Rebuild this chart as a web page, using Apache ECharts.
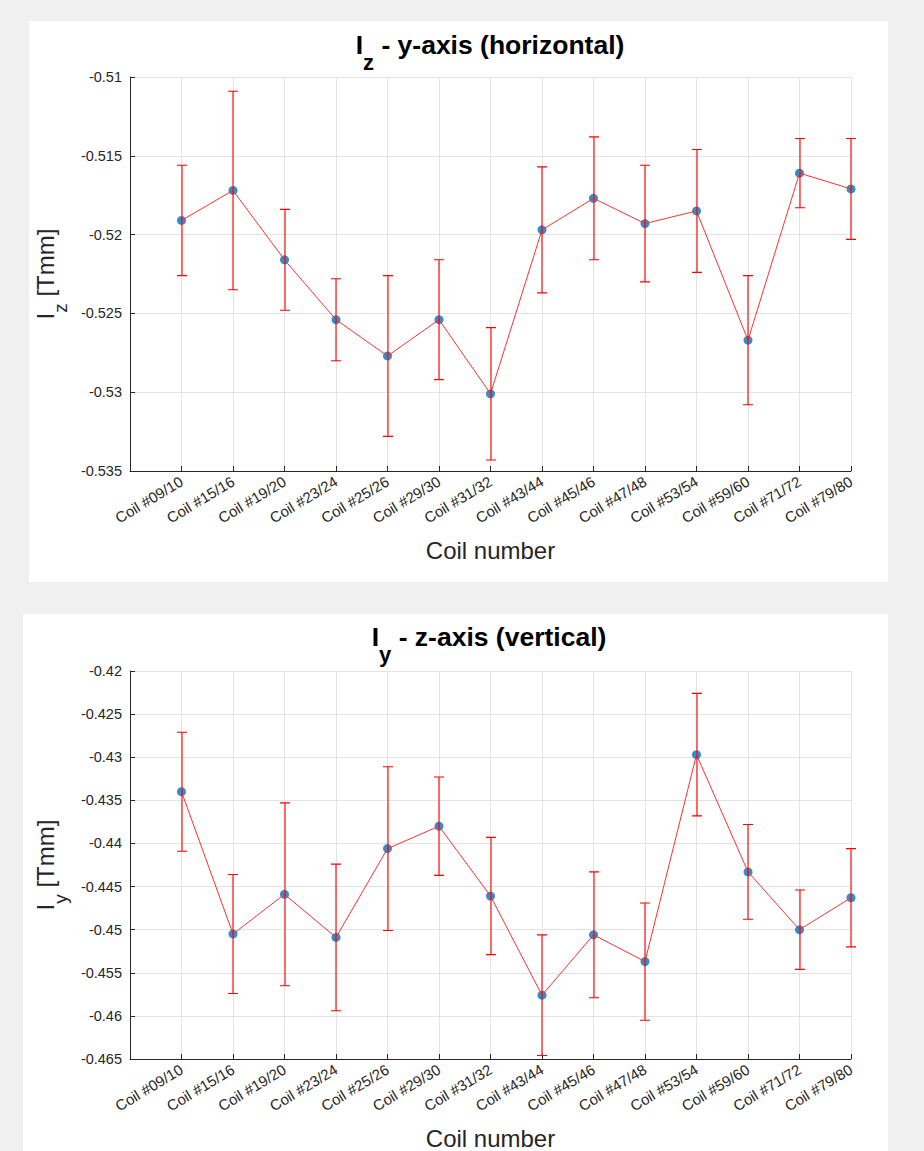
<!DOCTYPE html>
<html>
<head>
<meta charset="utf-8">
<script src="https://cdn.jsdelivr.net/npm/echarts@6/dist/echarts.min.js"></script>
<style>
  html, body { margin: 0; padding: 0; background: #f0f0f0; }
  #chart { width: 924px; height: 1151px; }
</style>
</head>
<body>
<div id="chart"></div>
<script>
// Coil pairs measured
const coils = ['Coil #09/10', 'Coil #15/16', 'Coil #19/20', 'Coil #23/24', 'Coil #25/26',
  'Coil #29/30', 'Coil #31/32', 'Coil #43/44', 'Coil #45/46', 'Coil #47/48',
  'Coil #53/54', 'Coil #59/60', 'Coil #71/72', 'Coil #79/80'];

// Iz (y-axis, horizontal) mean and error half-width [Tmm]
const izMean = [-0.5191, -0.5172, -0.5216, -0.5254, -0.5277, -0.5254, -0.5301,
  -0.5197, -0.5177, -0.5193, -0.5185, -0.5267, -0.5161, -0.5171];
const izErr = [0.0035, 0.0063, 0.0032, 0.0026, 0.0051, 0.0038, 0.0042,
  0.0040, 0.0039, 0.0037, 0.0039, 0.0041, 0.0022, 0.0032];

// Iy (z-axis, vertical) mean and error half-width [Tmm]
const iyMean = [-0.4340, -0.4505, -0.4459, -0.4509, -0.4406, -0.4380, -0.4461,
  -0.4576, -0.4506, -0.4537, -0.4297, -0.4433, -0.4500, -0.4463];
const iyErr = [0.0069, 0.0069, 0.0106, 0.0085, 0.0095, 0.0057, 0.0068,
  0.0070, 0.0073, 0.0068, 0.0071, 0.0055, 0.0046, 0.0057];

// y-axis ranges
const izRange = [-0.535, -0.51];
const iyRange = [-0.465, -0.42];
const yStep = 0.005;

const FONT = '"Liberation Sans", Arial, Helvetica, sans-serif';
const INK = '#262626';
const GRIDC = '#e3e3e3';
const RED = '#ff0000';

const chart = echarts.init(document.getElementById('chart'), null, { renderer: 'svg' });

function pts(mean) { return mean.map((v, i) => [i + 1, v]); }
function bars(mean, err) { return mean.map((v, i) => [i + 1, v, err[i]]); }

// vertical error bar with short caps at both ends, drawn as one path
function errorBarItem(params, api) {
  const x = api.value(0), y = api.value(1), e = api.value(2);
  const hi = api.coord([x, y + e]);
  const lo = api.coord([x, y - e]);
  const cx = Math.round(hi[0]);
  const cap = 5;
  const d = 'M' + cx + ' ' + hi[1] + 'L' + cx + ' ' + lo[1] +
    'M' + (cx - cap) + ' ' + hi[1] + 'L' + (cx + cap) + ' ' + hi[1] +
    'M' + (cx - cap) + ' ' + lo[1] + 'L' + (cx + cap) + ' ' + lo[1];
  return {
    type: 'path',
    shape: { pathData: d },
    style: { stroke: RED, lineWidth: 1.1, fill: 'none' }
  };
}

function xAxisFor(idx) {
  return {
    type: 'value', gridIndex: idx, min: 0, max: coils.length, interval: 1,
    name: 'Coil number', nameLocation: 'middle', nameGap: 67,
    nameTextStyle: { fontFamily: FONT, fontSize: 24, color: INK },
    axisLine: { show: true, onZero: false, lineStyle: { color: INK, width: 1 } },
    axisTick: { show: true, inside: true, length: 5, lineStyle: { color: INK } },
    axisLabel: {
      rotate: 31, margin: 9, fontFamily: FONT, fontSize: 15, color: INK,
      formatter: v => coils[v - 1] || ''
    },
    splitLine: { show: true, lineStyle: { color: GRIDC, width: 1 } }
  };
}

function yAxisFor(idx, range, sub) {
  return {
    type: 'value', gridIndex: idx, min: range[0], max: range[1], interval: yStep,
    name: '{m|I}{s|' + sub + '}{m| [Tmm]}', nameLocation: 'middle', nameGap: 68, nameRotate: 90,
    nameTextStyle: {
      fontFamily: FONT, color: INK,
      rich: {
        m: { fontFamily: FONT, fontSize: 24, color: INK, lineHeight: 28, verticalAlign: 'top' },
        s: { fontFamily: FONT, fontSize: 19, color: INK, lineHeight: 20, padding: [17, 0, 0, 0], verticalAlign: 'top' }
      }
    },
    axisLine: { show: true, lineStyle: { color: INK, width: 1 } },
    axisTick: { show: true, inside: true, length: 5, lineStyle: { color: INK } },
    axisLabel: {
      margin: 8, fontFamily: FONT, fontSize: 14.5, color: INK,
      formatter: v => String(parseFloat(v.toFixed(3)))
    },
    splitLine: { show: true, lineStyle: { color: GRIDC, width: 1 } }
  };
}

function titleText(x, y, sub, rest) {
  return {
    type: 'text', x: x, y: y, z: 10,
    style: {
      text: '{m|I}{s|' + sub + '}{m| ' + rest + '}',
      align: 'center', verticalAlign: 'top',
      rich: {
        m: { fontFamily: FONT, fontSize: 26.5, fontWeight: 'bold', fill: '#000', lineHeight: 30, verticalAlign: 'top' },
        s: { fontFamily: FONT, fontSize: 22, fontWeight: 'bold', fill: '#000', lineHeight: 22, padding: [20, 0, 0, 0], verticalAlign: 'top' }
      }
    }
  };
}

function seriesFor(idx, mean, err) {
  return [
    {
      type: 'scatter', xAxisIndex: idx, yAxisIndex: idx, z: 2,
      symbol: 'circle', symbolSize: 9,
      itemStyle: { color: '#0072BD' },
      data: pts(mean)
    },
    {
      type: 'line', xAxisIndex: idx, yAxisIndex: idx, z: 3,
      showSymbol: false, symbol: 'none',
      lineStyle: { color: '#ff3030', width: 1 },
      data: pts(mean)
    },
    {
      type: 'custom', xAxisIndex: idx, yAxisIndex: idx, z: 4,
      renderItem: errorBarItem,
      itemStyle: { color: RED },
      data: bars(mean, err)
    }
  ];
}

chart.setOption({
  animation: false,
  backgroundColor: '#f0f0f0',
  graphic: [
    { type: 'rect', shape: { x: 29, y: 21, width: 859, height: 561 }, style: { fill: '#ffffff' }, z: -10 },
    { type: 'rect', shape: { x: 23, y: 614, width: 865, height: 560 }, style: { fill: '#ffffff' }, z: -10 },
    titleText(490, 31, 'z', '- y-axis (horizontal)'),
    titleText(489, 623, 'y', '- z-axis (vertical)')
  ],
  grid: [
    { left: 130, top: 77, width: 721, height: 394 },
    { left: 130, top: 671, width: 721, height: 394 }
  ],
  xAxis: [xAxisFor(0), xAxisFor(1)],
  yAxis: [yAxisFor(0, izRange, 'z'), yAxisFor(1, iyRange, 'y')],
  series: [].concat(seriesFor(0, izMean, izErr), seriesFor(1, iyMean, iyErr))
});
</script>
</body>
</html>
